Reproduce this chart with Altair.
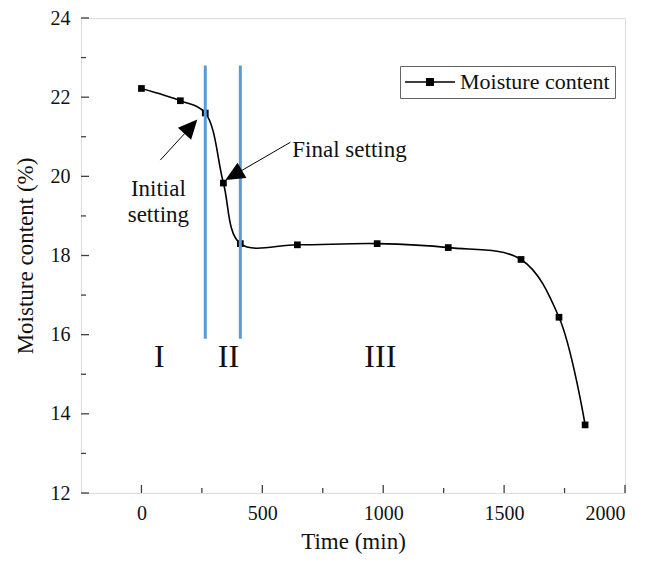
import altair as alt
import pandas as pd

# ---- data ----
time_min = [0, 161, 264, 339, 409, 645, 975, 1269, 1570, 1727, 1835]
moisture = [22.22, 21.91, 21.60, 19.83, 18.30, 18.27, 18.30, 18.20, 17.90, 16.44, 13.72]
series_name = "Moisture content"

setting_times = [264, 409]
setting_low = [15.9, 15.9]
setting_high = [22.8, 22.8]

stage_labels = ["I", "II", "III"]
stage_x = [74, 360, 988]
stage_y = [15.43, 15.43, 15.43]

note_text = ["Initial", "setting", "Final setting"]
note_x = [70, 70, 624]
note_y = [19.68, 19.03, 20.66]
note_align = ["center", "center", "left"]

arrow_tail_x = [78, 616]
arrow_tail_y = [20.41, 20.86]
arrow_head_x = [198, 390]
arrow_head_y = [21.21, 20.06]
arrow_angle = [42, 240]

x_major = [0, 500, 1000, 1500, 2000]
x_minor = [250, 750, 1250, 1750]
y_major = [12, 14, 16, 18, 20, 22, 24]
y_minor = [13, 15, 17, 19, 21, 23]

FONT = "Liberation Serif"
W, H = 544, 475
MAJOR, MINOR = 8, 5
TICK_COLOR = "#404040"

df = pd.DataFrame({"t": time_min, "m": moisture, "series": [series_name] * len(time_min)})
df_set = pd.DataFrame({"t": setting_times, "lo": setting_low, "hi": setting_high})
df_stage = pd.DataFrame({"x": stage_x, "y": stage_y, "label": stage_labels})
df_note = pd.DataFrame({"x": note_x, "y": note_y, "text": note_text, "align": note_align})
df_arrow = pd.DataFrame({"x": arrow_tail_x, "y": arrow_tail_y, "x2": arrow_head_x,
                         "y2": arrow_head_y, "angle": arrow_angle})
df_xmaj = pd.DataFrame({"v": x_major})
df_xmin = pd.DataFrame({"v": x_minor})
df_ymaj = pd.DataFrame({"v": y_major})
df_ymin = pd.DataFrame({"v": y_minor})

xs = alt.Scale(domain=[-250, 2000], nice=False, zero=False)
ys = alt.Scale(domain=[12, 24], nice=False, zero=False)

axis_common = dict(grid=False, domain=False, ticks=False, format="d",
                   labelFont=FONT, labelFontSize=20, labelColor="#111",
                   titleFont=FONT, titleFontSize=23, titleFontWeight="normal", titleColor="#111")

x_axis = alt.Axis(values=x_major, title="Time (min)", labelPadding=10, titlePadding=7, **axis_common)
y_axis = alt.Axis(values=y_major, title="Moisture content (%)", labelPadding=11, titlePadding=13, **axis_common)

line = alt.Chart(df).mark_line(interpolate="catmull-rom", color="black", strokeWidth=1.6).encode(
    x=alt.X("t:Q", scale=xs, axis=x_axis),
    y=alt.Y("m:Q", scale=ys, axis=y_axis),
)

legend_path = "M-2.27,-0.07H2.27V0.07H-2.27Z M-0.36,-0.36H0.36V0.36H-0.36Z"
points = alt.Chart(df).mark_point(shape="square", filled=True, size=45, opacity=1).encode(
    x="t:Q",
    y="m:Q",
    color=alt.Color("series:N", scale=alt.Scale(range=["black"]),
                    legend=alt.Legend(title=None, orient="none", legendX=319, legendY=48,
                                      symbolType=legend_path, symbolSize=484, symbolStrokeWidth=0,
                                      symbolFillColor="black", symbolOffset=14, labelOffset=19,
                                      labelFont=FONT, labelFontSize=22, labelColor="#111",
                                      padding=5, strokeColor="#666", fillColor="white",
                                      cornerRadius=0)),
)

vlines = alt.Chart(df_set).mark_rule(color="#5B9BD5", strokeWidth=3).encode(
    x="t:Q", y="lo:Q", y2="hi:Q")

stages = alt.Chart(df_stage).mark_text(font=FONT, fontSize=32, color="#111").encode(
    x="x:Q", y="y:Q", text="label:N")

notes_c = alt.Chart(df_note).transform_filter("datum.align == 'center'").mark_text(
    font=FONT, fontSize=23, color="#111", align="center").encode(x="x:Q", y="y:Q", text="text:N")
notes_l = alt.Chart(df_note).transform_filter("datum.align == 'left'").mark_text(
    font=FONT, fontSize=23, color="#111", align="left").encode(x="x:Q", y="y:Q", text="text:N")

arrow_lines = alt.Chart(df_arrow).mark_rule(color="black", strokeWidth=1).encode(
    x="x:Q", y="y:Q", x2="x2:Q", y2="y2:Q")
arrow_heads = alt.Chart(df_arrow).mark_point(
    shape="M0,-1L0.74,0.6L-0.74,0.6Z", filled=True, size=576, color="black", opacity=1).encode(
    x="x2:Q", y="y2:Q", angle=alt.Angle("angle:Q", scale=None))

# inward ticks along the bottom and left frame
xmaj = alt.Chart(df_xmaj).mark_rule(color=TICK_COLOR, strokeWidth=1.3).encode(
    x="v:Q", y=alt.value(H), y2=alt.value(H - MAJOR))
xmin = alt.Chart(df_xmin).mark_rule(color=TICK_COLOR, strokeWidth=1.3).encode(
    x="v:Q", y=alt.value(H), y2=alt.value(H - MINOR))
ymaj = alt.Chart(df_ymaj).mark_rule(color=TICK_COLOR, strokeWidth=1.3).encode(
    y="v:Q", x=alt.value(0), x2=alt.value(MAJOR))
ymin = alt.Chart(df_ymin).mark_rule(color=TICK_COLOR, strokeWidth=1.3).encode(
    y="v:Q", x=alt.value(0), x2=alt.value(MINOR))

chart = alt.layer(line, points, vlines, stages, notes_c, notes_l, arrow_lines, arrow_heads,
                  xmaj, xmin, ymaj, ymin).properties(
    width=W, height=H, autosize="none",
    padding={"left": 73, "top": 10, "right": 13, "bottom": 61},
).configure_view(stroke="#404040", strokeWidth=1.5).configure(background="white")

chart.save("out.html", embed_options={"renderer": "svg", "actions": False})
